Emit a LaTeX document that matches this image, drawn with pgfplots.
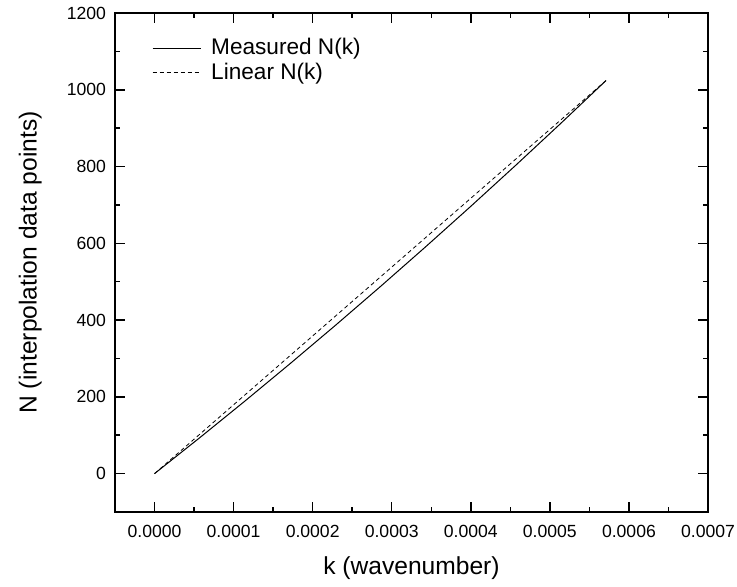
\documentclass[border=0pt]{standalone}
\usepackage{fontspec}
\setmainfont{Liberation Sans}
\usepackage{pgfplots}
\pgfplotsset{compat=1.18}

\begin{document}
\begin{tikzpicture}
\begin{axis}[
    name=ax,
    scale only axis,
    width=296.5pt, height=249.5pt,
    xmin=-0.00005, xmax=0.0007,
    ymin=-100, ymax=1200,
    xtick={0,0.0001,0.0002,0.0003,0.0004,0.0005,0.0006,0.0007},
    ytick={0,200,400,600,800,1000,1200},
    minor x tick num=1, minor y tick num=1,
    tick align=inside,
    major tick length=5pt, minor tick length=2.5pt,
    axis line style={line width=0.75pt},
    every tick/.style={line width=0.75pt, black},
    scaled x ticks=false,
    xticklabel style={/pgf/number format/fixed, /pgf/number format/precision=4,
        /pgf/number format/fixed zerofill},
    /pgf/number format/1000 sep={},
    /pgf/number format/assume math mode=true,
    ticklabel style={font=\fontsize{8.8}{10}\selectfont},
    xticklabel shift=3pt,
    yticklabel shift=1pt,
    label style={font=\fontsize{12.3}{14}\selectfont},
    xlabel={k (wavenumber)},
    ylabel={N (interpolation data points)},
    xlabel style={at={(axis description cs:0.5,-0.112)}, anchor=center},
    ylabel style={at={(axis description cs:-0.143,0.5)}, anchor=center},
    legend style={draw=none, fill=none, at={(axis description cs:0.052,0.966)},
        anchor=north west, font=\fontsize{11.3}{13}\selectfont,
        row sep=-1.5pt, cells={anchor=west}},
    legend image code/.code={\draw[#1] (0pt,0pt) -- (24pt,0pt); \path (27pt,0pt);},
]
\addplot[black, line width=0.5pt] coordinates {
    (0,0) (0.0000571,93.4) (0.0001142,188.8) (0.0001713,286.2)
    (0.0002284,385.6) (0.0002855,487) (0.0003426,590.4) (0.0003997,695.8)
    (0.0004568,803.2) (0.0005139,912.6) (0.000571,1024)
};
\addlegendentry{Measured N(k)}
\addplot[black, line width=0.4pt, dash pattern=on 2pt off 1.5pt] coordinates {
    (0,0) (0.000571,1024)
};
\addlegendentry{Linear N(k)}
\end{axis}
\pgfresetboundingbox
\path ([xshift=-57.5pt,yshift=-37.5pt]ax.south west) rectangle ([xshift=14.5pt,yshift=6.5pt]ax.north east);
\end{tikzpicture}
\end{document}
